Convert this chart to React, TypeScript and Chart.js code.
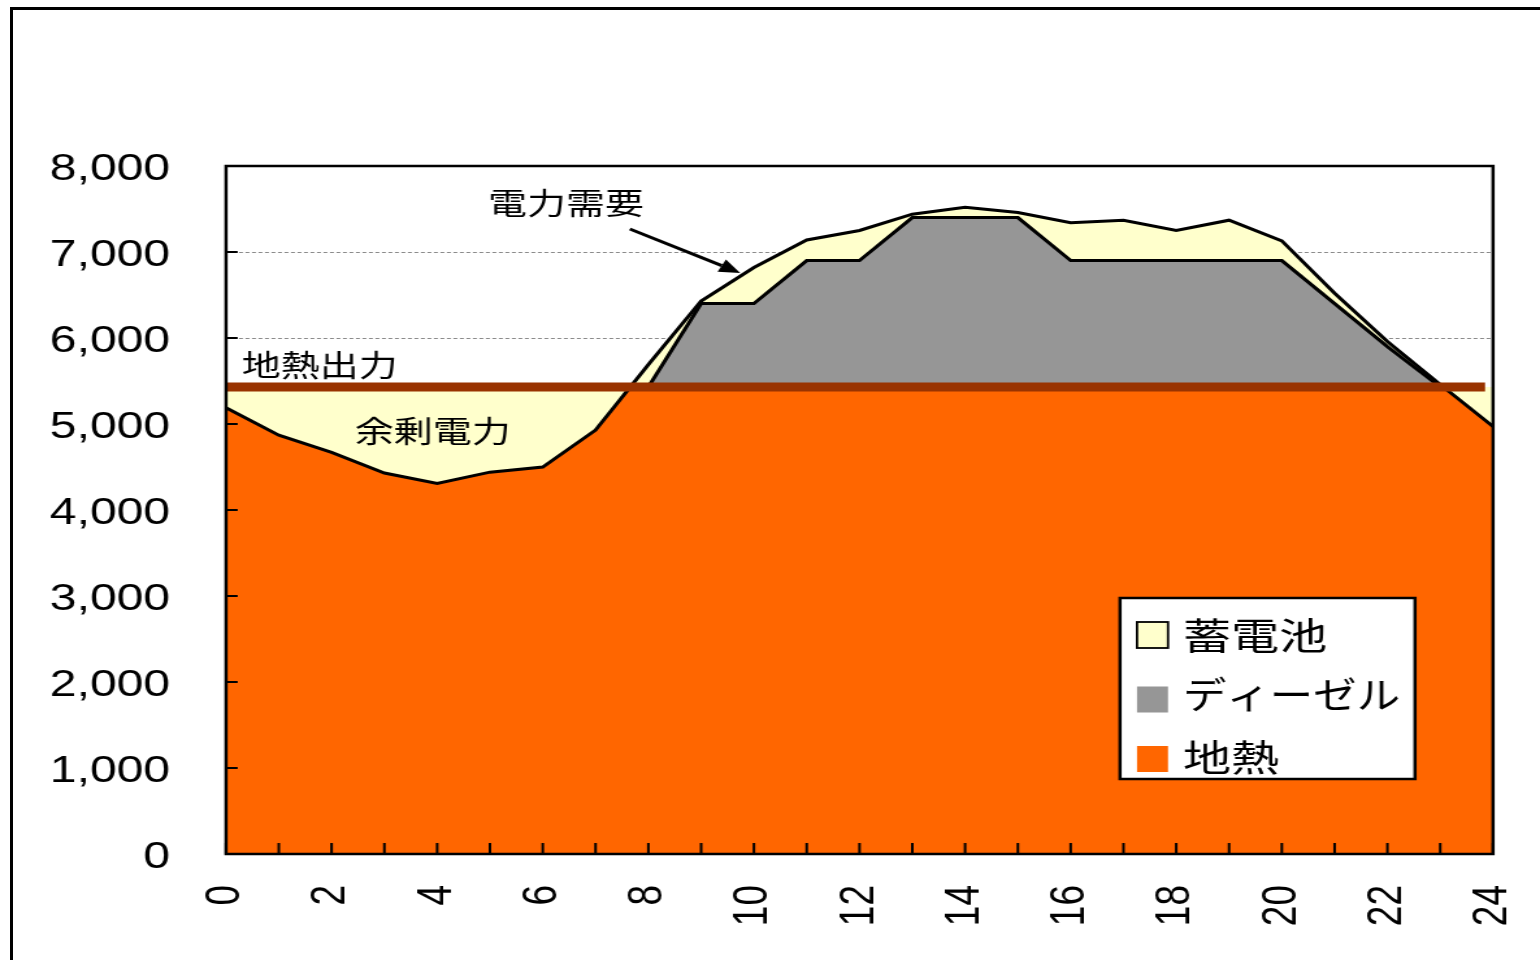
import React, { useEffect, useRef } from 'react';
import { Chart, registerables } from 'chart.js';

Chart.register(...registerables);

// ---- data ----
const hours = [0, 1, 2, 3, 4, 5, 6, 7, 8, 9, 10, 11, 12, 13, 14, 15, 16, 17, 18, 19, 20, 21, 22, 23, 24];
const demand = [5190, 4870, 4670, 4430, 4310, 4440, 4500, 4930, 5690, 6430, 6820, 7140, 7250, 7440, 7520, 7460, 7340, 7370, 7250, 7370, 7130, 6520, 5960, 5460, 4970];
const dieselHours = [8, 9, 10, 11, 12, 13, 14, 15, 16, 17, 18, 19, 20, 21, 22, 23];
const dieselTop = [5430, 6400, 6400, 6900, 6900, 7400, 7400, 7400, 6900, 6900, 6900, 6900, 6900, 6400, 5900, 5430];
const geoHours = [0, 24];
const geoOutput = [5430, 5430];
const geoLineHours = [0, 23.85];
const legendLabels = ['蓄電池', 'ディーゼル', '地熱'];
const annotationTexts = ['電力需要', '地熱出力', '余剰電力'];
const annotationHours = [4.96, 0.3, 2.44];
const annotationValues = [7570, 5686, 4919];
const arrowHours = [7.65, 9.74];
const arrowValues = [7267, 6756];

// ---- styles ----
const YELLOW = '#FFFFCC';
const GRAY = '#969696';
const ORANGE = '#FF6600';
const BROWN = '#993300';
const JP = '"Noto Sans CJK JP", "Noto Sans CJK SC", sans-serif';
const NUM = '"Liberation Sans", Arial, sans-serif';

const W = 1185;
const H = 960;
const S = 1540 / W;

const pts = (xs: number[], ys: number[]) => xs.map((x, i) => ({ x, y: ys[i] }));

const decor = {
  id: 'decor',
  beforeDatasetsDraw(chart: any) {
    const { ctx, chartArea: a, scales } = chart;
    const y = scales.y;
    ctx.save();
    ctx.strokeStyle = '#8a8a8a';
    ctx.lineWidth = 1;
    ctx.setLineDash([3, 2]);
    for (const t of y.ticks) {
      if (t.value <= 0 || t.value >= 8000) continue;
      const py = Math.round(y.getPixelForValue(t.value)) + 0.5;
      ctx.beginPath();
      ctx.moveTo(a.left, py);
      ctx.lineTo(a.right, py);
      ctx.stroke();
    }
    ctx.restore();
  },
  afterDatasetsDraw(chart: any) {
    const { ctx, chartArea: a, scales } = chart;
    const x = scales.x;
    const y = scales.y;
    ctx.save();
    ctx.setLineDash([]);
    ctx.strokeStyle = '#000';
    // inside tick marks
    ctx.lineWidth = 2;
    for (let h = 0; h <= 24; h++) {
      const px = x.getPixelForValue(h);
      ctx.beginPath();
      ctx.moveTo(px, a.bottom);
      ctx.lineTo(px, a.bottom - 11);
      ctx.stroke();
    }
    for (const t of y.ticks) {
      const py = y.getPixelForValue(t.value);
      ctx.beginPath();
      ctx.moveTo(a.left, py);
      ctx.lineTo(a.left + 9, py);
      ctx.stroke();
    }
    // plot frame
    ctx.lineWidth = 2.5;
    ctx.strokeRect(a.left, a.top, a.right - a.left, a.bottom - a.top);

    // annotations
    ctx.fillStyle = '#000';
    ctx.font = `30px ${JP}`;
    ctx.textAlign = 'left';
    ctx.textBaseline = 'middle';
    annotationTexts.forEach((t, i) => {
      ctx.fillText(t, x.getPixelForValue(annotationHours[i]), y.getPixelForValue(annotationValues[i]));
    });

    // arrow
    const x0 = x.getPixelForValue(arrowHours[0]);
    const y0 = y.getPixelForValue(arrowValues[0]);
    const x1 = x.getPixelForValue(arrowHours[1]);
    const y1 = y.getPixelForValue(arrowValues[1]);
    const ang = Math.atan2(y1 - y0, x1 - x0);
    const hl = 16;
    const hw = 7;
    const bx = x1 - hl * Math.cos(ang);
    const by = y1 - hl * Math.sin(ang);
    ctx.lineWidth = 3;
    ctx.beginPath();
    ctx.moveTo(x0, y0);
    ctx.lineTo(bx, by);
    ctx.stroke();
    ctx.beginPath();
    ctx.moveTo(x1, y1);
    ctx.lineTo(bx + hw * Math.sin(ang), by - hw * Math.cos(ang));
    ctx.lineTo(bx - hw * Math.sin(ang), by + hw * Math.cos(ang));
    ctx.closePath();
    ctx.fill();

    // legend
    const lx0 = 1120 / S;
    const lx1 = 1415 / S;
    const ly0 = 598;
    const ly1 = 779;
    ctx.fillStyle = '#fff';
    ctx.fillRect(lx0, ly0, lx1 - lx0, ly1 - ly0);
    ctx.lineWidth = 2.5;
    ctx.strokeStyle = '#000';
    ctx.strokeRect(lx0, ly0, lx1 - lx0, ly1 - ly0);
    const colors = [YELLOW, GRAY, ORANGE];
    const swCenters = [635, 699.5, 759];
    const textCenters = [636, 695, 758];
    const sx = 1137 / S;
    const sw = 31 / S;
    const sh = 26;
    ctx.font = `37px ${JP}`;
    legendLabels.forEach((lab, i) => {
      ctx.fillStyle = colors[i];
      ctx.fillRect(sx, swCenters[i] - sh / 2, sw, sh);
      if (i === 0) {
        ctx.lineWidth = 1.8;
        ctx.strokeStyle = '#000';
        ctx.strokeRect(sx, swCenters[i] - sh / 2, sw, sh);
      }
      ctx.fillStyle = '#000';
      const tx = 1183 / S;
      const maxW = (1400 - 1183) / S;
      ctx.fillText(lab, tx, textCenters[i], maxW);
    });
    ctx.restore();
  },
};

export default function App() {
  const ref = useRef<HTMLCanvasElement>(null);
  useEffect(() => {
    const canvas = ref.current!;
    const chart = new Chart(canvas, {
      type: 'line',
      data: {
        datasets: [
          {
            label: '地熱出力',
            data: pts(geoLineHours, geoOutput),
            borderColor: BROWN,
            borderWidth: 9,
            borderCapStyle: 'butt',
            fill: false,
            pointRadius: 0,
          },
          {
            label: '電力需要',
            data: pts(hours, demand),
            borderColor: '#000',
            borderWidth: 3,
            fill: false,
            pointRadius: 0,
          },
          {
            label: '余剰電力',
            data: pts(hours, demand),
            borderWidth: 0,
            borderColor: 'rgba(0,0,0,0)',
            backgroundColor: YELLOW,
            fill: { target: { value: geoOutput[0] }, above: 'rgba(0,0,0,0)', below: YELLOW },
            pointRadius: 0,
          },
          {
            label: '地熱',
            data: pts(geoHours, geoOutput),
            borderWidth: 0,
            borderColor: 'rgba(0,0,0,0)',
            backgroundColor: ORANGE,
            fill: 'origin',
            pointRadius: 0,
          },
          {
            label: 'ディーゼル',
            data: pts(dieselHours, dieselTop),
            borderColor: '#000',
            borderWidth: 3,
            backgroundColor: GRAY,
            fill: 'origin',
            pointRadius: 0,
          },
          {
            label: '蓄電池',
            data: pts(hours, demand),
            borderWidth: 0,
            borderColor: 'rgba(0,0,0,0)',
            backgroundColor: YELLOW,
            fill: 'origin',
            pointRadius: 0,
          },
        ],
      },
      options: {
        responsive: false,
        animation: false,
        devicePixelRatio: 1,
        layout: { padding: { left: 0, right: W - 1493 / S, top: 166, bottom: 0 } },
        elements: { line: { tension: 0, borderJoinStyle: 'miter' }, point: { radius: 0 } },
        plugins: { legend: { display: false }, tooltip: { enabled: false } },
        scales: {
          x: {
            type: 'linear',
            min: 0,
            max: 24,
            grid: { display: false, drawTicks: false },
            border: { display: false },
            ticks: {
              stepSize: 2,
              autoSkip: false,
              minRotation: 90,
              maxRotation: 90,
              padding: 31,
              color: '#000',
              font: { family: NUM, size: 37 },
            },
            afterFit: (s: any) => {
              s.height = H - 854;
              s.paddingLeft = 0;
              s.paddingRight = 0;
            },
          },
          y: {
            min: 0,
            max: 8000,
            grid: { display: false, drawTicks: false },
            border: { display: false },
            ticks: {
              stepSize: 1000,
              padding: 43,
              labelOffset: 4,
              color: '#000',
              font: { family: NUM, size: 37 },
              callback: (v: any) => Number(v).toLocaleString('en-US'),
            },
            afterFit: (s: any) => {
              s.width = 226 / S;
              s.paddingTop = 0;
              s.paddingBottom = 0;
            },
          },
        },
      } as any,
      plugins: [decor],
    });
    return () => chart.destroy();
  }, []);

  return (
    <div style={{ position: 'fixed', left: 0, top: 0, width: 1540, height: 960, overflow: 'hidden', background: '#fff' }}>
      <div
        style={{
          position: 'absolute',
          left: 10,
          top: 7,
          width: 1700,
          height: 1100,
          borderLeft: '3px solid #000',
          borderTop: '3px solid #000',
        }}
      />
      <canvas
        ref={ref}
        width={W}
        height={H}
        style={{
          position: 'absolute',
          left: 0,
          top: 0,
          width: W,
          height: H,
          transform: `scaleX(${S})`,
          transformOrigin: '0 0',
        }}
      />
    </div>
  );
}
